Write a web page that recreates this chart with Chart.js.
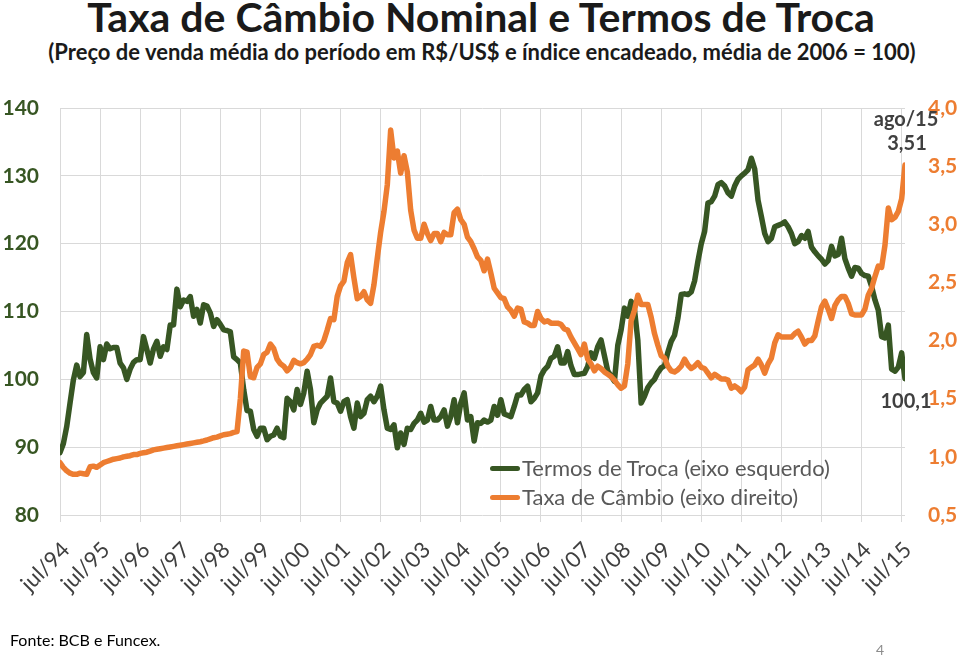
<!DOCTYPE html>
<html lang="pt-BR">
<head>
  <meta charset="UTF-8" />
  <title>Taxa de Câmbio Nominal e Termos de Troca</title>
  <style>
    * {
      margin: 0;
      padding: 0;
      box-sizing: border-box;
    }
    body {
      width: 960px;
      height: 657px;
      overflow: hidden;
      background: #ffffff;
      font-family: Lato, "Open Sans", sans-serif;
      position: relative;
    }
    #titulo {
      position: absolute;
      left: 0;
      top: -5px;
      width: 962px;
      text-align: center;
      font-size: 41px;
      font-weight: bold;
      color: #1a1a1a;
      line-height: 44px;
    }
    #subtitulo {
      position: absolute;
      left: 0;
      top: 39px;
      width: 964px;
      text-align: center;
      font-size: 22px;
      font-weight: bold;
      color: #1a1a1a;
      line-height: 26px;
    }
    #wrap {
      position: absolute;
      left: 0;
      top: 0;
      width: 960px;
      height: 657px;
    }
    /* legenda dentro da area do grafico */
    .leg {
      position: absolute;
      left: 490px;
      font-size: 22px;
      color: #595959;
      line-height: 26px;
      white-space: nowrap;
    }
    .leg span {
      display: inline-block;
      width: 30px;
      height: 5px;
      border-radius: 3px;
      vertical-align: middle;
      margin-right: 2px;
      position: relative;
      top: -2px;
    }
    .nota {
      position: absolute;
      font-size: 20px;
      font-weight: bold;
      color: #404040;
      transform: translate(-50%, -50%);
      white-space: nowrap;
    }
    #fonte {
      position: absolute;
      left: 10px;
      top: 630px;
      font-size: 16px;
      color: #000;
    }
    #pagina {
      position: absolute;
      left: 876px;
      top: 641px;
      font-size: 14px;
      color: #8c8c8c;
    }
  </style>
</head>
<body>
  <div id="titulo">Taxa de Câmbio Nominal e Termos de Troca</div>
  <div id="subtitulo">(Preço de venda média do período em R$/US$ e índice encadeado, média de 2006 = 100)</div>

  <div id="wrap"><canvas id="grafico"></canvas></div>

  <div class="leg" style="top:455px;"><span style="background:#375623;"></span>Termos de Troca (eixo esquerdo)</div>
  <div class="leg" style="top:484px;"><span style="background:#ED7D31;"></span>Taxa de Câmbio (eixo direito)</div>

  <div class="nota" id="notaMes">ago/15</div>
  <div class="nota" id="notaCambio">3,51</div>
  <div class="nota" id="notaTT">100,1</div>

  <div id="fonte">Fonte: BCB e Funcex.</div>
  <div id="pagina">4</div>

  <script src="https://cdn.jsdelivr.net/npm/chart.js"></script>
  <script>
    // meses de jul/94 (0) ate ago/15 (253)
    const rotulos = ['jul/94', 'jul/95', 'jul/96', 'jul/97', 'jul/98', 'jul/99', 'jul/00',
      'jul/01', 'jul/02', 'jul/03', 'jul/04', 'jul/05', 'jul/06', 'jul/07', 'jul/08',
      'jul/09', 'jul/10', 'jul/11', 'jul/12', 'jul/13', 'jul/14', 'jul/15'];

    // Termos de troca (indice, media 2006 = 100), mensal
    const termosTroca = [
      89.2, 90.5, 93.0, 96.5, 99.9, 102.1, 100.4, 101.0, 106.6, 103.0,
      101.0, 100.2, 104.8, 102.9, 105.2, 104.5, 104.7, 104.7, 102.4, 101.7,
      100.0, 101.5, 102.5, 102.9, 102.9, 106.3, 104.4, 102.4, 104.5, 105.6,
      103.4, 104.8, 104.4, 108.0, 108.0, 113.3, 110.7, 111.7, 111.5, 112.2,
      109.3, 110.3, 108.3, 111.0, 110.8, 109.8, 107.8, 108.8, 108.1, 107.3,
      107.2, 107.0, 103.3, 102.9, 102.4, 98.5, 95.4, 95.3, 92.6, 91.6,
      92.8, 92.8, 91.1, 91.6, 91.8, 92.8, 91.6, 91.4, 97.2, 96.7,
      95.5, 98.5, 96.3, 98.0, 101.2, 98.5, 93.6, 95.5, 96.5, 97.0,
      97.5, 100.2, 96.7, 96.5, 95.3, 96.7, 97.0, 94.5, 92.8, 96.5,
      94.5, 95.0, 97.0, 97.5, 96.7, 97.5, 99.0, 95.5, 92.8, 92.6,
      93.3, 89.9, 92.1, 90.4, 92.8, 92.6, 93.5, 94.0, 95.0, 93.7,
      94.0, 96.0, 94.0, 94.0, 94.5, 95.5, 93.1, 94.5, 97.0, 93.6,
      96.5, 98.0, 94.0, 94.5, 90.9, 93.6, 93.5, 94.0, 93.7, 94.0,
      96.0, 94.7, 97.0, 94.9, 94.7, 94.5, 96.0, 97.7, 97.7, 98.5,
      99.0, 96.7, 97.2, 98.0, 100.5, 101.4, 101.9, 103.1, 103.4, 104.8,
      102.4, 102.4, 104.1, 102.0, 100.7, 100.7, 100.8, 100.9, 101.9, 103.9,
      103.1, 104.8, 105.8, 103.5, 101.2, 100.5, 99.7, 105.0, 107.3, 110.5,
      109.3, 111.5, 110.3, 105.8, 96.5, 97.5, 98.8, 99.5, 100.0, 101.0,
      101.7, 102.0, 104.0, 105.6, 106.5, 109.0, 112.5, 112.6, 112.5, 112.9,
      114.5, 117.4, 120.0, 121.8, 126.0, 126.2, 127.0, 128.7, 129.0, 128.5,
      127.5, 127.0, 128.5, 129.5, 130.0, 130.4, 130.9, 132.6, 131.0, 126.4,
      124.0, 121.5, 120.3, 120.8, 122.5, 122.7, 122.9, 123.2, 122.5, 121.5,
      120.0, 120.3, 121.2, 120.8, 121.8, 119.5, 118.8, 118.2, 117.7, 117.0,
      117.5, 119.6, 118.2, 118.4, 120.8, 117.8, 116.4, 115.2, 116.5, 116.4,
      115.6, 115.3, 115.2, 113.7, 111.7, 110.2, 106.3, 106.1, 108.0, 101.5,
      101.2, 101.8, 103.9, 100.1
    ];

    // Taxa de cambio (R$/US$, media do periodo), mensal
    const cambio = [
      0.95, 0.91, 0.88, 0.86, 0.85, 0.85, 0.86, 0.855, 0.85, 0.915,
      0.92, 0.91, 0.93, 0.95, 0.96, 0.97, 0.98, 0.985, 0.99, 1.00,
      1.005, 1.01, 1.02, 1.02, 1.03, 1.035, 1.04, 1.05, 1.06, 1.065,
      1.07, 1.075, 1.08, 1.085, 1.09, 1.095, 1.10, 1.105, 1.11, 1.115,
      1.12, 1.125, 1.13, 1.137, 1.145, 1.155, 1.165, 1.17, 1.18, 1.19,
      1.195, 1.20, 1.21, 1.217, 1.50, 1.91, 1.90, 1.69, 1.68, 1.77,
      1.80, 1.88, 1.90, 1.97, 1.93, 1.84, 1.80, 1.78, 1.74, 1.77,
      1.83, 1.81, 1.80, 1.81, 1.84, 1.88, 1.95, 1.96, 1.95, 2.00,
      2.09, 2.19, 2.18, 2.38, 2.47, 2.51, 2.67, 2.74, 2.54, 2.36,
      2.38, 2.42, 2.35, 2.32, 2.48, 2.71, 2.93, 3.11, 3.34, 3.81,
      3.57, 3.63, 3.44, 3.59, 3.45, 3.12, 2.95, 2.88, 2.88, 3.00,
      2.92, 2.86, 2.92, 2.92, 2.85, 2.93, 2.91, 2.91, 3.10, 3.13,
      3.04, 3.00, 2.89, 2.85, 2.79, 2.72, 2.69, 2.60, 2.70, 2.58,
      2.45, 2.41, 2.37, 2.36, 2.29, 2.26, 2.21, 2.28, 2.27, 2.16,
      2.15, 2.13, 2.13, 2.25, 2.19, 2.16, 2.17, 2.15, 2.15, 2.15,
      2.14, 2.10, 2.09, 2.03, 1.98, 1.93, 1.88, 1.97, 1.84, 1.80,
      1.74, 1.78, 1.76, 1.73, 1.71, 1.69, 1.66, 1.62, 1.59, 1.61,
      1.80, 2.17, 2.26, 2.39, 2.31, 2.31, 2.31, 2.20, 2.06, 1.96,
      1.87, 1.85, 1.78, 1.74, 1.73, 1.75, 1.78, 1.84, 1.79, 1.76,
      1.78, 1.81, 1.77, 1.76, 1.72, 1.68, 1.71, 1.69, 1.67, 1.67,
      1.66, 1.59, 1.61, 1.59, 1.56, 1.60, 1.75, 1.77, 1.79, 1.84,
      1.79, 1.72, 1.80, 1.85, 1.98, 2.05, 2.03, 2.03, 2.03, 2.03,
      2.06, 2.08, 2.03, 1.97, 2.00, 2.00, 2.04, 2.17, 2.29, 2.34,
      2.27, 2.19, 2.30, 2.35, 2.38, 2.38, 2.32, 2.23, 2.22, 2.22,
      2.22, 2.27, 2.39, 2.45, 2.55, 2.64, 2.63, 2.82, 3.14, 3.04,
      3.06, 3.11, 3.22, 3.51
    ];

    const ultimo = cambio.length - 1;

    // posiciona as notas do ultimo ponto a partir das escalas
    const notasPlugin = {
      id: 'notas',
      afterRender(chart) {
        const x = chart.scales.x.getPixelForValue(ultimo);
        const yC = chart.scales.y1.getPixelForValue(cambio[ultimo]);
        const yT = chart.scales.y.getPixelForValue(termosTroca[ultimo]);
        const put = (id, px, py) => {
          const el = document.getElementById(id);
          el.style.left = px + 'px';
          el.style.top = py + 'px';
        };
        put('notaMes', x + 1, yC - 47);
        put('notaCambio', x + 2, yC - 23);
        put('notaTT', x + 1, yT + 21);
      }
    };

    const ctx = document.getElementById('grafico').getContext('2d');
    new Chart(ctx, {
      type: 'line',
      data: {
        datasets: [
          {
            label: 'Termos de Troca (eixo esquerdo)',
            data: termosTroca.map((v, i) => ({ x: i, y: v })),
            borderColor: '#375623',
            borderWidth: 5.5,
            pointRadius: 0,
            borderJoinStyle: 'round',
            borderCapStyle: 'round',
            yAxisID: 'y',
            order: 2
          },
          {
            label: 'Taxa de Câmbio (eixo direito)',
            data: cambio.map((v, i) => ({ x: i, y: v })),
            borderColor: '#ED7D31',
            borderWidth: 5.5,
            pointRadius: 0,
            borderJoinStyle: 'round',
            borderCapStyle: 'round',
            yAxisID: 'y1',
            order: 1
          }
        ]
      },
      options: {
        responsive: true,
        maintainAspectRatio: false,
        animation: false,
        layout: { padding: { top: 108, bottom: 42, left: 0, right: 0 } },
        plugins: {
          legend: { display: false },
          tooltip: { enabled: false }
        },
        scales: {
          x: {
            type: 'linear',
            min: 0,
            max: ultimo,
            afterBuildTicks(s) {
              s.ticks = rotulos.map((_, k) => ({ value: k * 12 }));
            },
            afterFit(s) { s.height = 100; },
            border: { display: false },
            grid: { color: '#d9d9d9', lineWidth: 1, tickLength: 7 },
            ticks: {
              autoSkip: false,
              minRotation: 45,
              maxRotation: 45,
              padding: 15,
              labelOffset: 6,
              color: '#404040',
              font: { family: 'Lato', size: 22 },
              callback: (v, i) => rotulos[i]
            }
          },
          y: {
            position: 'left',
            min: 80,
            max: 140,
            afterFit(s) { s.width = 60; },
            border: { display: false },
            grid: { color: '#d9d9d9', lineWidth: 1, drawTicks: false },
            ticks: {
              stepSize: 10,
              padding: 21,
              color: '#375623',
              font: { family: 'Lato', size: 21, weight: 'bold' }
            }
          },
          y1: {
            position: 'right',
            min: 0.5,
            max: 4.0,
            afterFit(s) { s.width = 55; },
            border: { display: false },
            grid: { display: false, drawTicks: false },
            ticks: {
              stepSize: 0.5,
              padding: 23,
              color: '#ED7D31',
              font: { family: 'Lato', size: 21, weight: 'bold' },
              callback: v => v.toFixed(1).replace('.', ',')
            }
          }
        }
      },
      plugins: [notasPlugin]
    });
  </script>
</body>
</html>
